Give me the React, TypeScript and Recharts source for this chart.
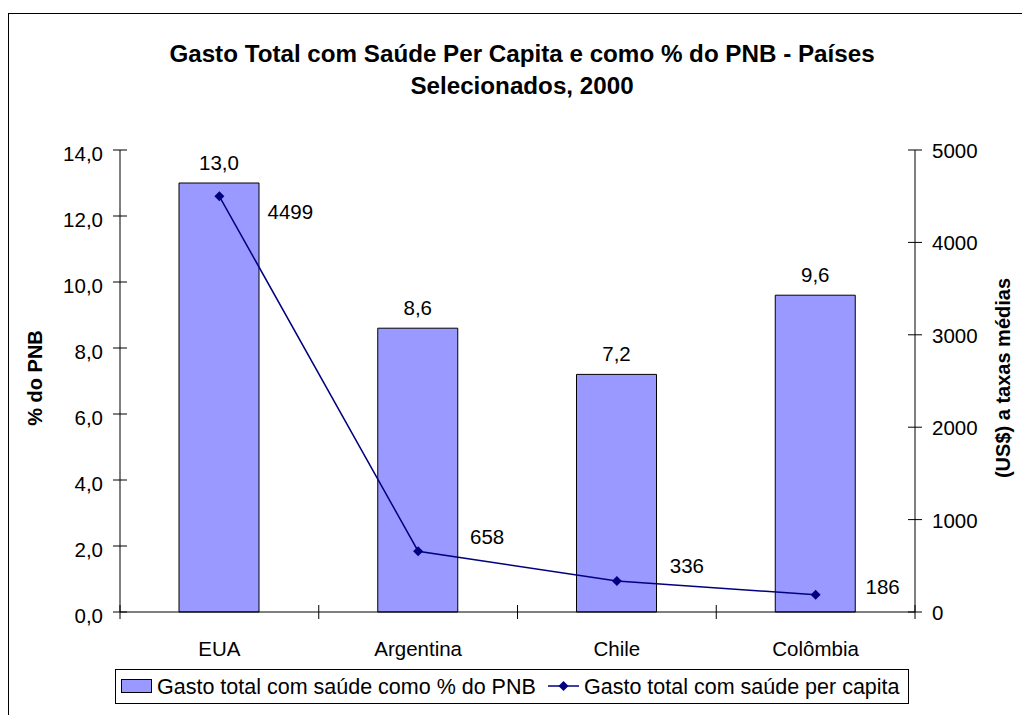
import React from 'react';
import { ComposedChart, Bar, Line, XAxis, YAxis, LabelList } from 'recharts';

document.body.style.margin = '0';
document.body.style.overflow = 'hidden';

const paises = ['EUA', 'Argentina', 'Chile', 'Colômbia'];
const gastoPctPNB = [13.0, 8.6, 7.2, 9.6];
const gastoPerCapita = [4499, 658, 336, 186];
const ticksPct = [0, 2, 4, 6, 8, 10, 12, 14];
const ticksUS = [0, 1000, 2000, 3000, 4000, 5000];

// where each per capita label sits relative to its point (dx, baseline dy)
const rotuloDesloc = [[71, 23], [69, -7], [70, -8], [67, -1]];

const data = paises.map((pais, i) => ({
  pais,
  pct: gastoPctPNB[i],
  perCapita: gastoPerCapita[i],
}));

const W = 1022;
const H = 715;
const LEFT_W = 120;
const RIGHT_W = 107;
const TOP = 150;
const BOTTOM_H = 103;
const HALF_BAND = (W - LEFT_W - RIGHT_W) / paises.length / 2;
const FONT = '"Liberation Sans", Arial, sans-serif';
const BAR_FILL = '#9999FF';
const LINE_COLOR = '#000080';

const fmtPct = (v: number) => v.toFixed(1).replace('.', ',');

const CategoryTick = (props: any) => {
  const { x, y, payload, index, visibleTicksCount } = props;
  return (
    <g>
      <line x1={x - HALF_BAND} x2={x - HALF_BAND} y1={y - 7} y2={y + 7} stroke="#000" />
      {index === visibleTicksCount - 1 && (
        <line x1={x + HALF_BAND} x2={x + HALF_BAND} y1={y - 7} y2={y + 7} stroke="#000" />
      )}
      <text x={x} y={y + 44} textAnchor="middle" fill="#000" fontSize={20.5} fontFamily={FONT}>
        {payload.value}
      </text>
    </g>
  );
};

const LeftTick = (props: any) => {
  const { x, y, payload } = props;
  return (
    <g>
      <line x1={x - 7} x2={x + 7} y1={y} y2={y} stroke="#000" />
      <text x={x - 17} y={y + 11} textAnchor="end" fill="#000" fontSize={20.5} fontFamily={FONT}>
        {fmtPct(payload.value)}
      </text>
    </g>
  );
};

const RightTick = (props: any) => {
  const { x, y, payload } = props;
  return (
    <g>
      <line x1={x - 7} x2={x + 7} y1={y} y2={y} stroke="#000" />
      <text x={x + 17} y={y + 8} textAnchor="start" fill="#000" fontSize={20.5} fontFamily={FONT}>
        {payload.value}
      </text>
    </g>
  );
};

const Diamond = (props: any) => {
  const { cx, cy } = props;
  if (cx == null || cy == null) return null;
  return <path d={`M${cx},${cy - 5}L${cx + 5},${cy}L${cx},${cy + 5}L${cx - 5},${cy}Z`} fill={LINE_COLOR} />;
};

const PerCapitaLabel = (props: any) => {
  const { x, y, value, index } = props;
  const [dx, dy] = rotuloDesloc[index] || [60, 0];
  return (
    <text x={x + dx} y={y + dy} textAnchor="middle" fill="#000" fontSize={20.5} fontFamily={FONT}>
      {value}
    </text>
  );
};

const AxisTitle = ({ viewBox, value, dx }: any) => {
  const cx = viewBox.x + dx;
  const cy = viewBox.y + viewBox.height / 2 - 3;
  return (
    <text
      x={cx}
      y={cy}
      transform={`rotate(-90 ${cx} ${cy})`}
      textAnchor="middle"
      dominantBaseline="central"
      fontSize={20}
      fontWeight="bold"
      fontFamily={FONT}
      fill="#000"
    >
      {value}
    </text>
  );
};

const Legenda = () => (
  <div
    style={{
      position: 'absolute',
      left: 115,
      top: 669,
      width: 792,
      height: 33,
      border: '1px solid #000',
      fontFamily: FONT,
      fontSize: 21.5,
      lineHeight: '33px',
      color: '#000',
      whiteSpace: 'nowrap',
    }}
  >
    <svg width={32} height={15} style={{ position: 'absolute', left: 5, top: 9 }}>
      <rect x={0.5} y={0.5} width={30} height={13} fill={BAR_FILL} stroke="#000" />
    </svg>
    <span style={{ position: 'absolute', left: 41, top: 1 }}>Gasto total com saúde como % do PNB</span>
    <svg width={32} height={16} style={{ position: 'absolute', left: 432, top: 8 }}>
      <line x1={0} x2={31} y1={8} y2={8} stroke={LINE_COLOR} strokeWidth={1.5} />
      <path d="M15.5,3L20.5,8L15.5,13L10.5,8Z" fill={LINE_COLOR} />
    </svg>
    <span style={{ position: 'absolute', left: 468, top: 1 }}>Gasto total com saúde per capita</span>
  </div>
);

export default function App() {
  return (
    <div style={{ position: 'relative', width: W, height: H, overflow: 'hidden', background: '#fff' }}>
      <div
        style={{
          position: 'absolute',
          left: 8,
          top: 13,
          width: 1200,
          height: 900,
          border: '1px solid #000',
        }}
      />
      <div
        style={{
          position: 'absolute',
          left: 0,
          top: 38,
          width: 1044,
          textAlign: 'center',
          fontFamily: FONT,
          fontWeight: 'bold',
          fontSize: 24.2,
          lineHeight: '32px',
          color: '#000',
        }}
      >
        Gasto Total com Saúde Per Capita e como % do PNB - Países
        <br />
        Selecionados, 2000
      </div>
      <div style={{ position: 'absolute', left: 0, top: 0 }}>
        <ComposedChart
          width={W}
          height={H}
          data={data}
          margin={{ top: TOP, right: 0, bottom: 0, left: 0 }}
        >
          <XAxis
            dataKey="pais"
            height={BOTTOM_H}
            axisLine={{ stroke: '#000' }}
            tickLine={false}
            tickSize={0}
            tickMargin={0}
            tick={<CategoryTick />}
            interval={0}
          />
          <YAxis
            yAxisId="pct"
            orientation="left"
            width={LEFT_W}
            domain={[0, 14]}
            ticks={ticksPct}
            axisLine={{ stroke: '#000' }}
            tickLine={false}
            tickSize={0}
            tickMargin={0}
            tick={<LeftTick />}
            label={(p: any) => <AxisTitle {...p} value="% do PNB" dx={35} />}
          />
          <YAxis
            yAxisId="us"
            orientation="right"
            width={RIGHT_W}
            domain={[0, 5000]}
            ticks={ticksUS}
            axisLine={{ stroke: '#000' }}
            tickLine={false}
            tickSize={0}
            tickMargin={0}
            tick={<RightTick />}
            label={(p: any) => <AxisTitle {...p} value="(US$) a taxas médias" dx={88} />}
          />
          <Bar
            yAxisId="pct"
            dataKey="pct"
            name="Gasto total com saúde como % do PNB"
            fill={BAR_FILL}
            stroke="#000"
            strokeWidth={1}
            barSize={80}
            isAnimationActive={false}
          >
            <LabelList
              dataKey="pct"
              position="top"
              offset={13}
              formatter={(v: any) => fmtPct(Number(v))}
              fill="#000"
              fontSize={20.5}
              fontFamily={FONT}
            />
          </Bar>
          <Line
            yAxisId="us"
            dataKey="perCapita"
            name="Gasto total com saúde per capita"
            stroke={LINE_COLOR}
            strokeWidth={1.5}
            type="linear"
            dot={<Diamond />}
            activeDot={false}
            isAnimationActive={false}
          >
            <LabelList dataKey="perCapita" content={<PerCapitaLabel />} />
          </Line>
        </ComposedChart>
      </div>
      <Legenda />
    </div>
  );
}
